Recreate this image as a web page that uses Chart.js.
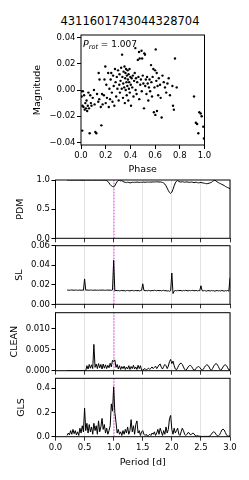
<!DOCTYPE html>
<html>
<head>
<meta charset="utf-8">
<script src="https://cdn.jsdelivr.net/npm/chart.js@4.4.1/dist/chart.umd.min.js"></script>
<style>
  html, body { margin: 0; padding: 0; background: #fff; }
  #wrap { position: relative; width: 249px; height: 480px; overflow: hidden; }
  #wrap canvas { position: absolute; left: 0; top: 0; }
  #title { position: absolute; left: 0; width: 260px; top: 14px; line-height: 14px; text-align: center;
           font-family: 'DejaVu Sans', sans-serif; font-size: 11.5px; color: #000; }
</style>
</head>
<body>
<div id="wrap">
  <div id="title"></div>
  <canvas id="phaseChart" width="249" height="480"></canvas>
  <canvas id="pdmChart" width="249" height="480"></canvas>
  <canvas id="slChart" width="249" height="480"></canvas>
  <canvas id="cleanChart" width="249" height="480"></canvas>
  <canvas id="glsChart" width="249" height="480"></canvas>
</div>
<script>
const starId = '4311601743044328704';
const pRot = 1.007;

// folded light curve
const phase = [
	0.000, 0.005, 0.010, 0.012, 0.015, 0.020, 0.025, 0.030, 0.035, 0.040,
	0.045, 0.050, 0.055, 0.060, 0.065, 0.070, 0.075, 0.080, 0.085, 0.095,
	0.105, 0.110, 0.116, 0.124, 0.130, 0.140, 0.143, 0.148, 0.150, 0.160,
	0.165, 0.170, 0.175, 0.185, 0.190, 0.197, 0.200, 0.205, 0.210, 0.220,
	0.225, 0.230, 0.235, 0.240, 0.245, 0.250, 0.255, 0.260, 0.265, 0.270,
	0.275, 0.280, 0.285, 0.290, 0.295, 0.300, 0.305, 0.310, 0.312, 0.315,
	0.320, 0.325, 0.330, 0.333, 0.335, 0.340, 0.342, 0.345, 0.350, 0.352,
	0.355, 0.358, 0.360, 0.362, 0.365, 0.368, 0.370, 0.372, 0.375, 0.378,
	0.380, 0.383, 0.385, 0.388, 0.390, 0.393, 0.395, 0.400, 0.403, 0.405,
	0.410, 0.415, 0.420, 0.425, 0.430, 0.435, 0.440, 0.442, 0.445, 0.450,
	0.455, 0.460, 0.465, 0.470, 0.472, 0.475, 0.480, 0.485, 0.490, 0.492,
	0.495, 0.500, 0.505, 0.510, 0.513, 0.518, 0.520, 0.525, 0.530, 0.535,
	0.540, 0.545, 0.550, 0.555, 0.560, 0.567, 0.570, 0.575, 0.580, 0.586,
	0.590, 0.595, 0.600, 0.602, 0.605, 0.610, 0.613, 0.615, 0.620, 0.625,
	0.630, 0.640, 0.645, 0.653, 0.660, 0.670, 0.680, 0.690, 0.700, 0.710,
	0.720, 0.745, 0.752, 0.740, 0.775, 0.761, 0.915, 0.930, 0.940, 0.950,
	0.958, 0.969, 0.977, 0.990, 0.995,
];
const magnitude = [
	-0.001, -0.005, -0.031, -0.012, -0.001, -0.013, -0.004, -0.015, -0.010, -0.014,
	-0.008, -0.016, -0.012, -0.002, -0.014, -0.033, -0.004, -0.010, -0.012, -0.006,
	0.000, -0.011, -0.032, -0.033, -0.003, -0.009, 0.013, -0.007, 0.008, -0.013,
	-0.027, -0.003, -0.011, -0.004, 0.008, 0.018, -0.010, 0.004, -0.006, 0.013,
	-0.013, 0.001, -0.007, 0.008, 0.013, -0.002, -0.009, 0.011, 0.003, -0.012,
	0.016, 0.006, -0.005, 0.010, 0.001, 0.015, -0.008, 0.004, 0.012, -0.002,
	0.007, 0.017, 0.001, 0.027, 0.010, -0.006, 0.005, 0.014, 0.002, 0.018,
	-0.010, 0.009, 0.013, 0.000, 0.016, 0.006, -0.004, 0.011, 0.003, 0.015,
	0.008, -0.008, 0.012, 0.001, 0.006, 0.016, -0.002, 0.010, 0.004, -0.012,
	0.009, 0.002, 0.011, -0.005, 0.007, 0.013, 0.032, 0.000, 0.009, -0.003,
	0.006, 0.023, 0.010, 0.029, -0.007, 0.024, 0.004, 0.008, 0.030, -0.001,
	0.024, 0.011, 0.005, -0.014, 0.028, 0.027, 0.003, 0.008, -0.003, 0.010,
	0.005, -0.008, 0.002, 0.008, -0.001, 0.019, 0.006, -0.005, 0.010, 0.016,
	-0.017, 0.002, 0.015, -0.019, 0.031, 0.007, 0.013, -0.016, 0.003, -0.004,
	0.009, 0.004, -0.006, -0.021, 0.011, 0.006, 0.002, -0.002, 0.005, 0.009,
	-0.004, -0.012, -0.015, 0.003, 0.002, 0.024, -0.005, -0.025, -0.026, -0.033,
	-0.017, -0.018, -0.020, -0.028, -0.037,
];

// periodograms, all on the same period grid
const periods = [
	0.20, 0.22, 0.24, 0.26, 0.28, 0.30, 0.32, 0.34, 0.36, 0.38,
	0.40, 0.42, 0.44, 0.46, 0.48, 0.50, 0.52, 0.54, 0.56, 0.58,
	0.60, 0.62, 0.64, 0.66, 0.68, 0.70, 0.72, 0.74, 0.76, 0.78,
	0.80, 0.82, 0.84, 0.86, 0.88, 0.90, 0.92, 0.94, 0.96, 0.98,
	1.00, 1.02, 1.04, 1.06, 1.08, 1.10, 1.12, 1.14, 1.16, 1.18,
	1.20, 1.22, 1.24, 1.26, 1.28, 1.30, 1.32, 1.34, 1.36, 1.38,
	1.40, 1.42, 1.44, 1.46, 1.48, 1.50, 1.52, 1.54, 1.56, 1.58,
	1.60, 1.62, 1.64, 1.66, 1.68, 1.70, 1.72, 1.74, 1.76, 1.78,
	1.80, 1.82, 1.84, 1.86, 1.88, 1.90, 1.92, 1.94, 1.96, 1.98,
	2.00, 2.02, 2.04, 2.06, 2.08, 2.10, 2.12, 2.14, 2.16, 2.18,
	2.20, 2.22, 2.24, 2.26, 2.28, 2.30, 2.32, 2.34, 2.36, 2.38,
	2.40, 2.42, 2.44, 2.46, 2.48, 2.50, 2.52, 2.54, 2.56, 2.58,
	2.60, 2.62, 2.64, 2.66, 2.68, 2.70, 2.72, 2.74, 2.76, 2.78,
	2.80, 2.82, 2.84, 2.86, 2.88, 2.90, 2.92, 2.94, 2.96, 2.98,
	3.00,
];
const pdmPower = [
	1.0, 1.0, 0.999, 1.0, 0.998, 1.0, 0.999, 1.0, 0.998, 0.999,
	1.0, 0.999, 0.998, 0.996, 0.995, 0.997, 0.999, 1.0, 0.999, 0.998,
	1.0, 0.999, 1.0, 0.998, 0.999, 1.0, 0.999, 0.998, 0.999, 1.0,
	0.999, 0.998, 0.997, 0.995, 0.99, 0.975, 0.95, 0.92, 0.90, 0.888,
	0.885, 0.9, 0.94, 0.975, 0.99, 0.995, 0.985, 0.99, 0.975, 0.965,
	0.96, 0.955, 0.962, 0.958, 0.95, 0.955, 0.962, 0.958, 0.963, 0.96,
	0.965, 0.962, 0.958, 0.963, 0.96, 0.962, 0.966, 0.96, 0.963, 0.966,
	0.962, 0.965, 0.963, 0.967, 0.965, 0.968, 0.966, 0.97, 0.968, 0.965,
	0.967, 0.963, 0.958, 0.948, 0.93, 0.9, 0.86, 0.82, 0.785, 0.77,
	0.79, 0.84, 0.9, 0.95, 0.98, 0.99, 0.975, 0.968, 0.965, 0.97,
	0.967, 0.962, 0.965, 0.968, 0.963, 0.96, 0.962, 0.965, 0.96, 0.955,
	0.958, 0.962, 0.955, 0.95, 0.955, 0.958, 0.952, 0.948, 0.945, 0.94,
	0.935, 0.94, 0.945, 0.952, 0.96, 0.975, 0.99, 0.995, 0.985, 0.965,
	0.955, 0.945, 0.935, 0.925, 0.915, 0.905, 0.89, 0.88, 0.87, 0.86,
	0.855,
];
const slPower = [
	0.0145, 0.0146, 0.0144, 0.0145, 0.0147, 0.0145, 0.0144, 0.0146, 0.0145, 0.0143,
	0.0145, 0.0146, 0.0144, 0.0145, 0.0143, 0.026, 0.0144, 0.0146, 0.0145, 0.0144,
	0.0146, 0.0145, 0.0143, 0.0145, 0.0146, 0.0144, 0.0145, 0.0143, 0.0146, 0.0144,
	0.0145, 0.0146, 0.0144, 0.0143, 0.0145, 0.0146, 0.0144, 0.0145, 0.0143, 0.0147,
	0.045, 0.0138, 0.0142, 0.0139, 0.0141, 0.0137, 0.014, 0.0143, 0.0138, 0.0141,
	0.0136, 0.014, 0.0142, 0.0139, 0.0137, 0.0141, 0.0143, 0.0138, 0.014, 0.0142,
	0.0139, 0.0141, 0.0137, 0.014, 0.0143, 0.021, 0.0142, 0.0139, 0.0141, 0.0138,
	0.0143, 0.014, 0.0137, 0.0142, 0.0139, 0.0144, 0.0141, 0.0138, 0.0143, 0.0139,
	0.0142, 0.0137, 0.0141, 0.0143, 0.0138, 0.014, 0.0136, 0.0139, 0.0133, 0.014,
	0.032, 0.011, 0.0135, 0.0141, 0.0138, 0.0142, 0.0139, 0.0143, 0.014, 0.0137,
	0.0142, 0.0139, 0.0144, 0.014, 0.0137, 0.0142, 0.0139, 0.0141, 0.0143, 0.0138,
	0.014, 0.0142, 0.0137, 0.0141, 0.0139, 0.019, 0.014, 0.0137, 0.0142, 0.0138,
	0.0135, 0.0141, 0.0139, 0.0136, 0.0142, 0.0138, 0.014, 0.0134, 0.0139, 0.0141,
	0.0137, 0.014, 0.0136, 0.0142, 0.0138, 0.0135, 0.014, 0.0137, 0.0142, 0.0134,
	0.027,
];
const cleanPower = [
	0, 0, 0, 0, 0, 0, 0, 0, 0, 0,
	0, 0, 0, 0, 0, 0, 0, 0.0012, 0.0004, 0.0015,
	0.0006, 0.0014, 0.0005, 0.0063, 0.0008, 0.0016, 0.0005, 0.0017, 0.0007, 0.0015,
	0.0004, 0.0016, 0.0006, 0.0014, 0.0005, 0.0013, 0.0007, 0.0018, 0.0009, 0.0025,
	0.0022, 0.0026, 0.0008, 0.0015, 0.0004, 0.0012, 0.0003, 0.001, 0.0005, 0.0011,
	0.0003, 0.0009, 0.0004, 0.0012, 0.0003, 0.001, 0.0005, 0.0013, 0.0004, 0.0009,
	0.0003, 0.0013, 0.0005, 0.0012, 0.0002, 0.0001, 0.0004, 0.0005, 0.0002, 0.0004,
	0.0006, 0.0003, 0.0006, 0.0009, 0.0005, 0.0008, 0.0011, 0.0005, 0.0009, 0.0014,
	0.0016, 0.0008, 0.0004, 0.001, 0.0015, 0.0012, 0.0005, 0.0011, 0.0022, 0.0027,
	0.0017, 0.0023, 0.0012, 0.0004, 0.0002, 0.0007, 0.0013, 0.0017, 0.0018, 0.0015,
	0.0009, 0.0003, 0.0001, 0.0004, 0.0009, 0.0012, 0.0013, 0.001, 0.0005, 0.0001,
	0.0002, 0.0006, 0.0009, 0.001, 0.0008, 0.0004, 0.0001, 0.0003, 0.0008, 0.0012,
	0.0014, 0.0013, 0.0009, 0.0003, 0.0001, 0.0005, 0.0011, 0.0015, 0.0017, 0.0015,
	0.001, 0.0004, 0.0001, 0.0004, 0.0009, 0.0013, 0.0014, 0.0012, 0.0007, 0.0002,
	0.0003,
];
const glsPower = [
	0.01, 0.03, 0.015, 0.05, 0.02, 0.06, 0.025, 0.05, 0.015, 0.04,
	0.01, 0.07, 0.03, 0.09, 0.04, 0.235, 0.05, 0.11, 0.03, 0.1,
	0.04, 0.08, 0.02, 0.11, 0.05, 0.09, 0.02, 0.13, 0.04, 0.08,
	0.15, 0.06, 0.1, 0.03, 0.07, 0.02, 0.05, 0.09, 0.27, 0.21,
	0.41, 0.2, 0.12, 0.03, 0.06, 0.02, 0.04, 0.01, 0.05, 0.02,
	0.06, 0.03, 0.08, 0.02, 0.05, 0.14, 0.04, 0.09, 0.02, 0.1,
	0.13, 0.03, 0.05, 0.01, 0.04, 0.05, 0.02, 0.01, 0.02, 0.005,
	0.01, 0.02, 0.01, 0.03, 0.02, 0.04, 0.01, 0.03, 0.06, 0.02,
	0.07, 0.04, 0.01, 0.05, 0.02, 0.08, 0.03, 0.06, 0.15, 0.175,
	0.06, 0.02, 0.07, 0.03, 0.05, 0.07, 0.02, 0.01, 0.04, 0.07,
	0.05, 0.02, 0.01, 0.02, 0.035, 0.03, 0.015, 0.02, 0.03, 0.025,
	0.01, 0.005, 0.01, 0.005, 0.004, 0.003, 0.002, 0.002, 0.003, 0.002,
	0.003, 0.002, 0.003, 0.008, 0.02, 0.035, 0.04, 0.035, 0.02, 0.008,
	0.006, 0.015, 0.035, 0.055, 0.063, 0.055, 0.035, 0.015, 0.005, 0.004,
	0.008,
];

// tick labels
const phaseTicks = [0, 0.2, 0.4, 0.6, 0.8, 1.0];
const magTicks = [-0.04, -0.02, 0, 0.02, 0.04];
const periodTicks = [0, 0.5, 1, 1.5, 2, 2.5, 3];
const pdmTicks = [0, 0.5, 1];
const slTicks = [0, 0.02, 0.04, 0.06];
const cleanTicks = [0, 0.005, 0.01];
const glsTicks = [0, 0.2, 0.4];

const W = 249;
const H = 480;

Chart.defaults.font.family = "'DejaVu Sans', sans-serif";
Chart.defaults.font.size = 8.5;
Chart.defaults.color = '#000';

document.getElementById('title').textContent = starId;

const fixedTicks = (values) => (scale) => {
	scale.ticks = values.map((value) => ({ value }));
};
const fitWidth = (w) => (scale) => {
	scale.width = w;
	scale.paddingTop = 0;
	scale.paddingBottom = 0;
};
const fitHeight = (h) => (scale) => {
	scale.height = h;
	scale.paddingLeft = 0;
	scale.paddingRight = 0;
};
const minusFmt = (dp) => (v) => (v < 0 ? '\u2212' + Math.abs(v).toFixed(dp) : v.toFixed(dp));

const framePlugin = {
	id: 'frame',
	afterDatasetsDraw(chart) {
		const { ctx, chartArea: a } = chart;
		ctx.save();
		ctx.strokeStyle = '#000';
		ctx.lineWidth = 1;
		ctx.strokeRect(a.left, a.top, a.right - a.left, a.bottom - a.top);
		ctx.restore();
	},
};

const protLabel = {
	id: 'protLabel',
	afterDatasetsDraw(chart) {
		const { ctx, chartArea: a } = chart;
		ctx.save();
		ctx.fillStyle = '#000';
		ctx.textBaseline = 'alphabetic';
		let x = a.left + 2;
		const y = a.top + 12;
		ctx.font = "italic 9.5px 'DejaVu Sans'";
		ctx.fillText('P', x, y);
		x += ctx.measureText('P').width;
		ctx.font = "italic 6.5px 'DejaVu Sans'";
		ctx.fillText('rot', x, y + 2);
		x += ctx.measureText('rot').width;
		ctx.font = "9px 'DejaVu Sans'";
		ctx.fillText(' = ' + pRot.toFixed(3), x, y);
		ctx.restore();
	},
};

const axisTitle = (text, pad) => ({
	display: true,
	text,
	font: { size: 9.5 },
	padding: pad,
});

new Chart(document.getElementById('phaseChart'), {
	type: 'scatter',
	data: {
		datasets: [
			{
				data: phase.map((p, i) => ({ x: p, y: magnitude[i] })),
				backgroundColor: '#000',
				borderWidth: 0,
				pointRadius: 1.2,
			},
		],
	},
	options: {
		responsive: false,
		animation: false,
		events: [],
		layout: { padding: { left: 0, right: W - 204.5, top: 35, bottom: H - 180 } },
		plugins: { legend: { display: false }, tooltip: { enabled: false } },
		scales: {
			x: {
				type: 'linear',
				min: 0,
				max: 1,
				afterBuildTicks: fixedTicks(phaseTicks),
				afterFit: fitHeight(35),
				grid: { drawOnChartArea: false, tickColor: '#000', tickLength: 4 },
				border: { display: false },
				ticks: { padding: 2, maxRotation: 0, callback: (v) => v.toFixed(1) },
				title: axisTitle('Phase', { top: 0, bottom: 4.3 }),
			},
			y: {
				min: -0.042,
				max: 0.042,
				afterBuildTicks: fixedTicks(magTicks),
				afterFit: fitWidth(81),
				grid: { drawOnChartArea: false, tickColor: '#000', tickLength: 4 },
				border: { display: false },
				ticks: { padding: 1.5, callback: minusFmt(2) },
				title: axisTitle('Magnitude', { top: 32.3, bottom: 0 }),
			},
		},
	},
	plugins: [framePlugin, protLabel],
});

function periodPanel(id, values, opts) {
	return new Chart(document.getElementById(id), {
		type: 'line',
		data: {
			datasets: [
				{
					data: periods.map((p, i) => ({ x: p, y: values[i] })),
					borderColor: '#000',
					borderWidth: 1,
					pointRadius: 0,
				},
				{
					data: [
						{ x: pRot, y: opts.min },
						{ x: pRot, y: opts.max },
					],
					borderColor: '#e36ee3',
					borderDash: [1.5, 1.5],
					borderWidth: 1.3,
					pointRadius: 0,
				},
			],
		},
		options: {
			responsive: false,
			animation: false,
			events: [],
			layout: {
				padding: { left: 0, right: W - 230, top: opts.top, bottom: H - opts.bottom - opts.xh },
			},
			plugins: { legend: { display: false }, tooltip: { enabled: false } },
			scales: {
				x: {
					type: 'linear',
					min: 0,
					max: 3,
					afterBuildTicks: fixedTicks(periodTicks),
					afterFit: fitHeight(opts.xh),
					grid: { color: '#dcdcdc', lineWidth: 0.8, tickColor: '#000', tickLength: 4 },
					border: { display: false },
					ticks: { display: !!opts.showX, padding: 2, maxRotation: 0, callback: (v) => v.toFixed(1) },
					title: { ...axisTitle('Period [d]', { top: 0, bottom: 11.3 }), display: !!opts.showX },
				},
				y: {
					min: opts.min,
					max: opts.max,
					afterBuildTicks: fixedTicks(opts.ticks),
					afterFit: fitWidth(55.5),
					grid: { drawOnChartArea: false, tickColor: '#000', tickLength: 4 },
					border: { display: false },
					ticks: { padding: 1.5, callback: (v) => v.toFixed(opts.dp) },
					title: axisTitle(opts.label, { top: opts.labelX - 5.7, bottom: 0 }),
				},
			},
		},
		plugins: [framePlugin],
	});
}

periodPanel('pdmChart', pdmPower, { label: 'PDM', min: 0, max: 1, ticks: pdmTicks, dp: 1, top: 180, bottom: 238.3, xh: 4, labelX: 20.5 });
periodPanel('slChart', slPower, { label: 'SL', min: 0, max: 0.06, ticks: slTicks, dp: 2, top: 245.7, bottom: 304.3, xh: 4, labelX: 20 });
periodPanel('cleanChart', cleanPower, { label: 'CLEAN', min: 0, max: 0.0139, ticks: cleanTicks, dp: 3, top: 312.7, bottom: 370.7, xh: 4, labelX: 15 });
periodPanel('glsChart', glsPower, { label: 'GLS', min: 0, max: 0.48, ticks: glsTicks, dp: 1, top: 378.3, bottom: 436.7, xh: 43.3, labelX: 22, showX: true });
</script>
</body>
</html>
